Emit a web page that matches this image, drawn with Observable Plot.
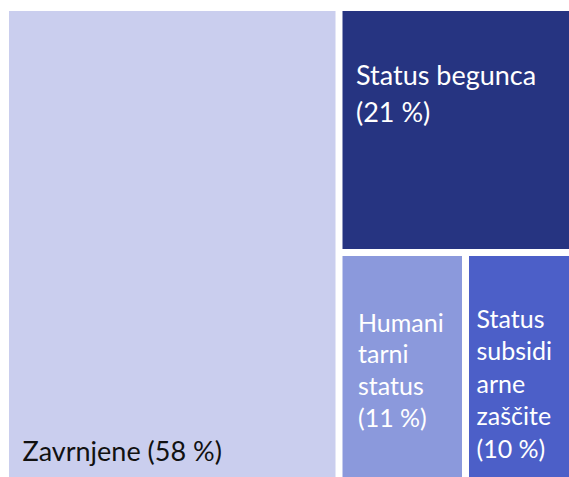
<!DOCTYPE html>
<html>
<head>
<meta charset="utf-8">
<script src="https://cdn.jsdelivr.net/npm/d3@7"></script>
<script src="https://cdn.jsdelivr.net/npm/@observablehq/plot@0.6"></script>
<style>
  html, body { margin: 0; padding: 0; background: #ffffff; }
  #chart svg { display: block; }
</style>
</head>
<body>
<div id="chart"></div>
<script>
// ---- Data ----
const categories = ["Zavrnjene", "Status begunca", "Humanitarni status", "Status subsidiarne zaščite"];
const shares = [58, 21, 11, 10];
const labelLines = [
  ["Zavrnjene (58 %)"],
  ["Status begunca", "(21 %)"],
  ["Humani", "tarni", "status", "(11 %)"],
  ["Status", "subsidi", "arne", "zaščite", "(10 %)"]
];
const colors = ["#CACEEE", "#263481", "#8B99DC", "#4C5FC8"];

// ---- Layout (nested so that slice/dice alternates like the original) ----
const leaves = categories.map((c, i) => ({name: c, value: shares[i], i}));
const tree = {children: [leaves[0], {children: [leaves[1], {children: [leaves[2], leaves[3]]}]}]};
const root = d3.hierarchy(tree).sum(d => d.value || 0);
d3.treemap().tile(d3.treemapSliceDice).size([568, 483]).paddingInner(7)(root);
const offX = 9, offY = 11;
const cells = root.leaves().map(n => ({
  name: n.data.name, i: n.data.i,
  x1: n.x0 + offX, x2: n.x1 + offX, y1: n.y0 + offY, y2: n.y1 + offY
}));

// label style per cell
const labelStyle = [
  {pad: 13, base: -34, step: 0, size: 27, color: "#111111"},
  {pad: 13, base: 73, step: 37, size: 27, color: "#ffffff"},
  {pad: 15, base: 75, step: 31.7, size: 25, color: "#ffffff"},
  {pad: 7, base: 71, step: 32.5, size: 25, color: "#ffffff"}
];
const lines = cells.flatMap(c => {
  const s = labelStyle[c.i];
  return labelLines[c.i].map((t, k) => ({
    text: t, i: c.i, size: s.size, color: s.color,
    x: c.x1 + s.pad,
    y: (s.base < 0 ? c.y2 + s.base : c.y1 + s.base) + k * s.step
  }));
});

const W = 569, H = 477;
const chart = Plot.plot({
  width: W, height: H,
  margin: 0,
  x: {type: "identity", axis: null},
  y: {type: "identity", axis: null},
  style: {fontFamily: "Lato, sans-serif", background: "#ffffff"},
  marks: [
    Plot.rect(cells, {x1: "x1", x2: "x2", y1: "y1", y2: "y2", fill: d => colors[d.i]}),
    ...[0, 1, 2, 3].map(i => Plot.text(lines.filter(l => l.i === i), {
      x: "x", y: "y", text: "text", textAnchor: "start", lineAnchor: "bottom",
      fontSize: labelStyle[i].size, fill: labelStyle[i].color
    }))
  ]
});
document.getElementById("chart").appendChild(chart);
</script>
</body>
</html>
